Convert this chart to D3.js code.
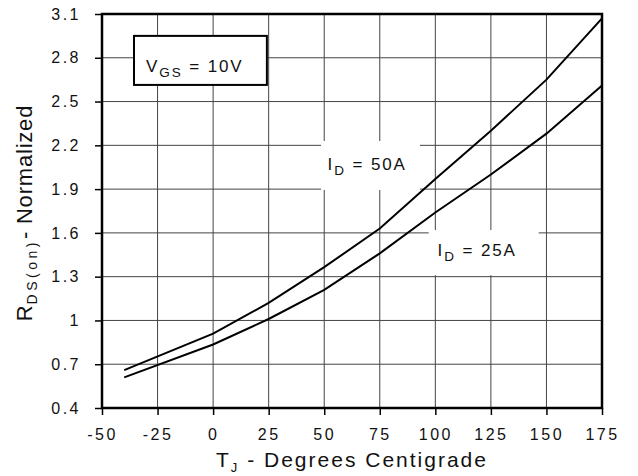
<!DOCTYPE html>
<html>
<head>
<meta charset="utf-8">
<script src="https://cdn.jsdelivr.net/npm/d3@7"></script>
<style>
  body { margin: 0; background: #fff; }
  text { font-family: Arial, "Liberation Sans", sans-serif; fill: #111; }
</style>
</head>
<body>
<svg width="638" height="476"></svg>
<script>
// values
const temps = [-40, 0, 25, 50, 75, 100, 125, 150, 175];
const id50 = [0.66, 0.91, 1.12, 1.365, 1.63, 1.97, 2.30, 2.65, 3.07];
const id25 = [0.61, 0.835, 1.01, 1.21, 1.46, 1.74, 2.0, 2.28, 2.61];
const xTicks = [-50, -25, 0, 25, 50, 75, 100, 125, 150, 175];
const yTicks = [0.4, 0.7, 1, 1.3, 1.6, 1.9, 2.2, 2.5, 2.8, 3.1];

const margin = { top: 14, right: 36, bottom: 68, left: 102 };
const width = 638 - margin.left - margin.right;
const height = 476 - margin.top - margin.bottom;

const svg = d3.select('svg');
const g = svg.append('g').attr('transform', `translate(${margin.left},${margin.top})`);

const x = d3.scaleLinear().domain([-50, 175]).range([0, width]);
const y = d3.scaleLinear().domain([0.4, 3.1]).range([height, 0]);

// grid
g.selectAll('.vgrid').data(xTicks.slice(1, -1)).join('line')
  .attr('class', 'vgrid')
  .attr('x1', d => x(d)).attr('x2', d => x(d))
  .attr('y1', 0).attr('y2', height)
  .attr('stroke', '#444').attr('stroke-width', 1);
g.selectAll('.hgrid').data(yTicks.slice(1, -1)).join('line')
  .attr('class', 'hgrid')
  .attr('x1', 0).attr('x2', width)
  .attr('y1', d => y(d)).attr('y2', d => y(d))
  .attr('stroke', '#444').attr('stroke-width', 1);

// axes (plain hyphen for negatives, like the reference)
const xAxis = d3.axisBottom(x).tickValues(xTicks).tickSize(7).tickPadding(14)
  .tickFormat(d => String(d));
const yAxis = d3.axisLeft(y).tickValues(yTicks).tickSize(7).tickPadding(14)
  .tickFormat(d => String(+d.toFixed(1)));

const gx = g.append('g').attr('transform', `translate(0,${height})`).call(xAxis);
const gy = g.append('g').call(yAxis);
[gx, gy].forEach(a => {
  a.select('.domain').remove();
  a.selectAll('.tick line').attr('stroke', '#000').attr('stroke-width', 1.5);
  a.selectAll('.tick text')
    .attr('fill', '#111')
    .style('font-size', '16px')
    .style('letter-spacing', '2.5px');
});

// labels with white backgrounds
function label(box, parts) {
  const grp = g.append('g');
  grp.append('rect')
    .attr('x', x(box.x0)).attr('y', y(box.y1))
    .attr('width', x(box.x1) - x(box.x0)).attr('height', y(box.y0) - y(box.y1))
    .attr('fill', '#fff')
    .attr('stroke', box.border ? '#000' : 'none')
    .attr('stroke-width', 2);
  const t = grp.append('text')
    .attr('x', x(box.tx)).attr('y', y(box.ty))
    .style('font-size', '17px').style('letter-spacing', '1.9px');
  parts.forEach(p => {
    t.append('tspan').text(p.text)
      .attr('dy', p.dy || 0)
      .style('font-size', p.sub ? '13.5px' : '17px');
  });
}

label({ x0: -35.6, x1: 24.2, y0: 2.614, y1: 2.95, tx: -30.2, ty: 2.70, border: true },
  [{ text: 'V' }, { text: 'GS', sub: true, dy: 5 }, { text: ' = 10V', dy: -5 }]);
label({ x0: 48.6, x1: 93.1, y0: 1.894, y1: 2.23, tx: 51.5, ty: 2.03 },
  [{ text: 'I' }, { text: 'D', sub: true, dy: 5 }, { text: ' = 50A', dy: -5 }]);
label({ x0: 97, x1: 146.5, y0: 1.31, y1: 1.62, tx: 101, ty: 1.445 },
  [{ text: 'I' }, { text: 'D', sub: true, dy: 5 }, { text: ' = 25A', dy: -5 }]);

// curves
const line = d3.line().x(d => x(d[0])).y(d => y(d[1]));
[id50, id25].forEach(vals => {
  g.append('path')
    .datum(temps.map((t, i) => [t, vals[i]]))
    .attr('d', line)
    .attr('fill', 'none')
    .attr('stroke', '#000')
    .attr('stroke-width', 2);
});

// frame
g.append('rect')
  .attr('x', 0).attr('y', 0).attr('width', width).attr('height', height)
  .attr('fill', 'none').attr('stroke', '#000').attr('stroke-width', 2.5);

// axis titles
const xt = svg.append('text')
  .attr('x', margin.left + width / 2).attr('y', 467)
  .attr('text-anchor', 'middle')
  .style('font-size', '21px').style('letter-spacing', '2px');
xt.append('tspan').text('T');
xt.append('tspan').text('J').style('font-size', '13px').attr('dy', 5);
xt.append('tspan').text(' - Degrees Centigrade').attr('dy', -5);

const yt = svg.append('text')
  .attr('transform', `translate(32,${margin.top + height / 2 + 2}) rotate(-90)`)
  .attr('text-anchor', 'middle')
  .style('font-size', '22px').style('letter-spacing', '0.8px');
yt.append('tspan').text('R');
yt.append('tspan').text('DS(on)').style('font-size', '14px').style('letter-spacing', '3.5px').attr('dy', 5);
yt.append('tspan').text('- Normalized').attr('dy', -5);
</script>
</body>
</html>
